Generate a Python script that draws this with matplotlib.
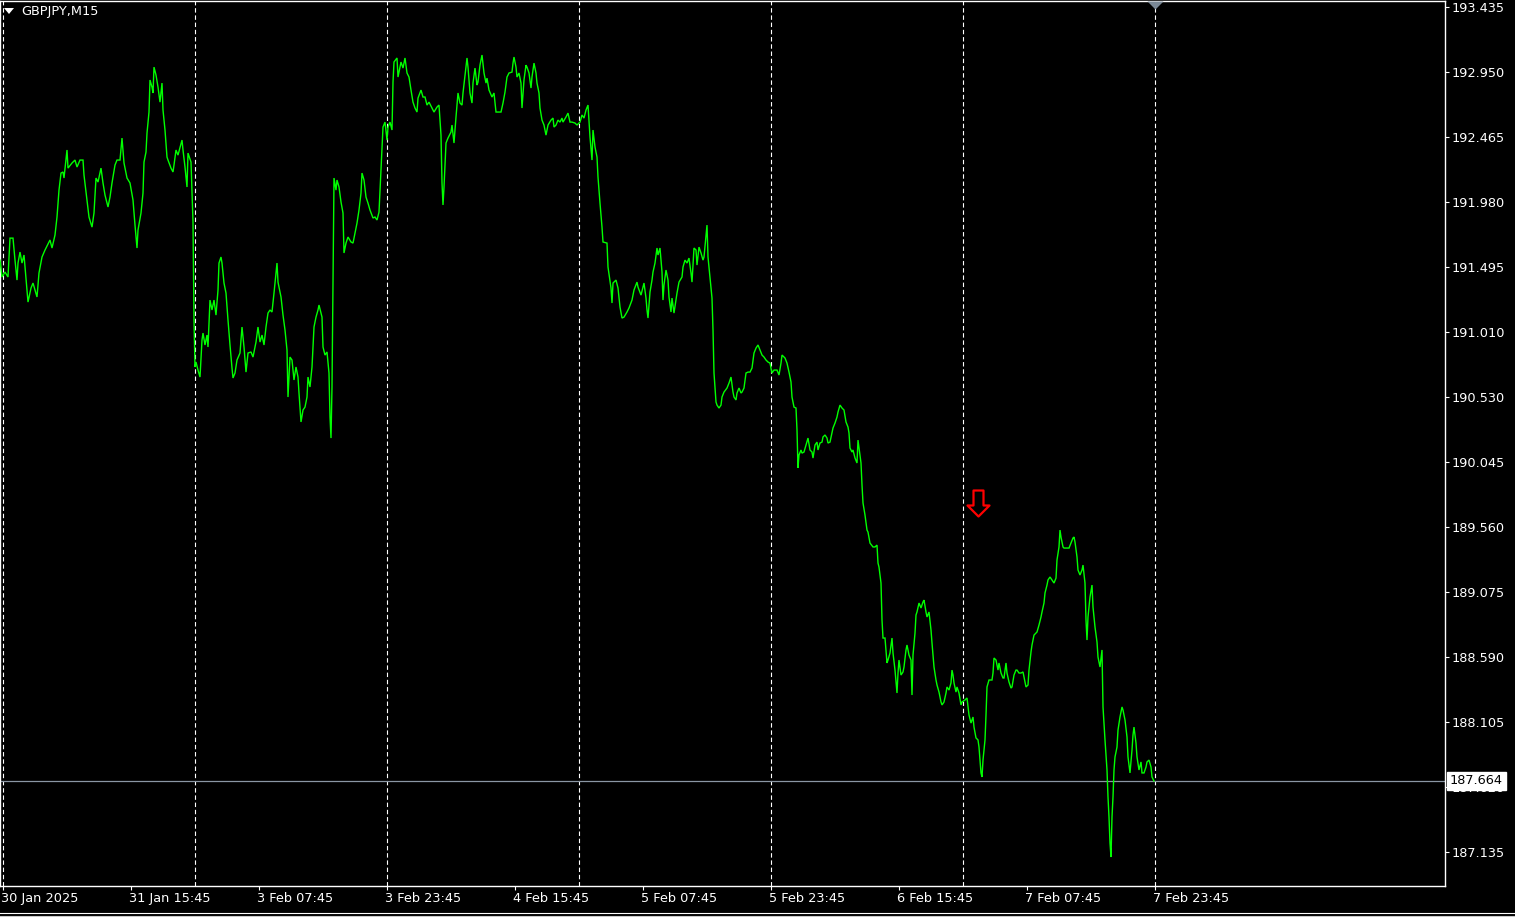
import matplotlib
matplotlib.use("Agg")
import matplotlib.pyplot as plt
import matplotlib.transforms as mtransforms
from matplotlib.transforms import ScaledTranslation
from matplotlib.path import Path

# ---------------- data ----------------
symbol = "GBPJPY,M15"

bars = [
    -1.5, -0.5, 1, 2.5, 3.5, 5, 6, 7, 7.5, 8.5, 9.5, 10.5, 11.5, 12.5, 14, 15, 17, 18, 19.5, 21,
    23.5, 24.5, 26, 27, 28, 29, 30, 30.5, 32, 32.5, 34.5, 36, 37, 38.5, 40, 40.5, 42, 43, 44.5, 45.5,
    46.5, 47.5, 49, 50, 51, 52.5, 53.5, 54.5, 56, 57, 58.5, 59.5, 60.5, 62, 63.5, 65, 66, 67, 67.5, 69,
    70, 70.5, 71.5, 72, 73, 73.5, 74.5, 75, 75.5, 76.5, 77.5, 78.5, 79.5, 80, 81, 82, 82.5, 84, 85, 85.5,
    86.5, 87.5, 89.5, 90, 91, 92, 92.5, 94, 95, 95.5, 96, 96.5, 97.5, 98.5, 99.5, 100, 101, 102, 102.5, 103.5,
    104.5, 105.5, 106.5, 107.5, 108, 109, 109.5, 110.5, 111.5, 112.5, 113.5, 114.5, 115, 116, 117, 118.5, 119.5, 120.5, 121.5, 122.5,
    124, 125, 126.5, 127.5, 128.5, 129.5, 130.5, 131.5, 132.5, 133.5, 134.5, 135.5, 136.5, 137, 137.5, 139, 140, 141, 142, 142.5,
    143.5, 144.5, 145.5, 146.5, 147.5, 148, 149, 150, 151, 152, 152.5, 153.5, 154.5, 155.5, 156.5, 157.5, 158, 159.5, 160, 161,
    162, 163, 163.5, 164, 164.5, 165, 165.5, 166.5, 167, 168, 169, 170, 170.5, 171.5, 172.5, 174, 175, 176, 177, 178,
    179, 179.5, 180.5, 181.5, 182.5, 183.5, 185, 186, 187, 188, 189, 189.5, 190, 191, 192, 192.5, 193.5, 194.5, 195, 195.5,
    197, 197.5, 199, 200, 201, 202, 203, 204, 205, 206, 207, 207.5, 209, 210, 211, 212, 213, 214.5, 215.5, 217,
    218, 219, 219.5, 220, 220.5, 221.5, 222.5, 224, 224.5, 225.5, 226.5, 227.5, 228.5, 229.5, 230, 231, 232, 232.5, 233.5, 234.5,
    235, 236, 237, 237.5, 238.5, 239.5, 240.5, 241.5, 242, 243, 244.5, 245.5, 246.5, 247.5, 249, 250, 251, 252, 253, 254.5,
    255, 255.5, 256.5, 257, 258, 259, 259.5, 260.5, 261.5, 262, 263, 264, 264.5, 265.5, 266.5, 267, 268, 268.5, 269.5, 270.5,
    271.5, 272.5, 274, 275, 275.5, 276.5, 277.5, 278.5, 279.5, 280, 281.5, 282.5, 283.5, 284.5, 286, 287, 288.5, 289.5, 290.5, 291.5,
    292.5, 293.5, 294.5, 295, 296, 297, 297.5, 298.5, 299.5, 300, 302, 302.5, 304, 304.5, 305, 306.5, 307.5, 308.5, 309.5, 310.5,
    312, 313, 314.5, 315.5, 317, 317.5, 319, 320, 320.5, 321.5, 322, 322.5, 323.5, 324.5, 325, 326, 327, 327.5, 328.5, 329.5,
    330, 330.5, 331.5, 332.5, 333, 334, 334.5, 335.5, 336.5, 337, 338, 339.5, 340, 341, 342, 343, 344, 344.5, 345.5, 346.5,
    347, 348, 349, 350, 350.5, 351.5, 352, 352.5, 353.5, 354.5, 355, 355.5, 356.5, 357, 358, 359, 359.5, 360.5, 362, 363,
    364, 365, 365.5, 366.5, 367, 368, 369, 369.5, 370.5, 371.5, 372.5, 373.5, 374.5, 375.5, 376.5, 377.5, 378.5, 379.5, 380.5, 381.5,
    382.5, 383.5, 384.5, 385.5, 387, 388, 389, 389.5, 391, 392, 393, 394, 394.5, 395.5, 396.5, 397, 397.5, 398, 399, 399.5,
    400.5, 401.5, 402.5, 403.5, 404.5, 405, 406, 407, 407.5, 408.5, 409.5, 410, 411, 412, 412.5, 413.5, 414.5, 415, 416, 417,
    417.5, 418.5, 419.5, 420.5, 421.5, 422.5, 423, 423.5, 424.5, 425, 426, 427, 427.5, 428, 429, 429.5, 430, 431, 432, 432.5,
    433.5, 435, 436, 437, 437.5, 438, 439, 439.5, 440, 441, 442, 442.5, 443.5, 444.5, 445, 446, 447, 447.5, 448, 449,
    450, 450.5, 451.5, 452, 453, 454, 454.5, 455, 456, 456.5, 457, 458, 459, 460, 460.5, 461.5, 462, 463, 464, 464.5,
    465.5, 466.5, 467, 468, 469, 469.5, 470.5, 471.5, 472, 473, 474, 474.5, 475, 475.5, 476.5, 477, 478, 479, 479.5, 481,
    482, 483, 484, 485, 485.5, 486.5, 487.5, 488, 489, 489.5, 490, 491, 491.5, 492, 493, 494.5, 495, 495.5, 496.5, 497.5,
    498, 499, 500, 500.5, 501.5, 502, 503, 504, 504.5, 505.5, 506.5, 507, 508, 509, 510, 510.5, 511.5, 512.5, 513, 514,
    514.5, 515.5, 516.5, 517, 518, 519, 519.5, 520.5, 521, 522, 522.5, 523.5, 524.5, 525.5, 526.5, 527, 528, 528.5, 529, 530,
    530.5, 532, 533, 534, 535, 535.5, 536, 537, 537.5, 538.5, 539.5, 540, 541, 541.5, 542, 542.5, 543.5, 544.5, 545, 546,
    547, 547.5, 548.5, 549.5, 550, 551, 552, 552.5, 553, 553.5, 554, 554.5, 555, 555.5, 556, 557, 557.5, 558.5, 559.5, 560,
    561, 562, 562.5, 563.5, 564.5, 565, 565.5, 566.5, 567, 568, 569, 569.5, 570.5, 571.5, 572, 573, 574, 574.5, 575.5,
]

closes = [
    191.548, 191.422, 191.459, 191.422, 191.712, 191.712, 191.548, 191.399, 191.526, 191.608, 191.526, 191.586, 191.414, 191.235, 191.340, 191.377, 191.273, 191.452, 191.571, 191.623,
    191.698, 191.638, 191.735, 191.869, 192.070, 192.197, 192.205, 192.160, 192.369, 192.234, 192.272, 192.294, 192.242, 192.294, 192.294, 192.182, 191.996, 191.869, 191.794, 191.899,
    192.160, 192.130, 192.234, 192.123, 192.033, 191.944, 192.018, 192.123, 192.257, 192.294, 192.294, 192.458, 192.272, 192.160, 192.123, 191.996, 191.809, 191.638, 191.772, 191.899,
    192.048, 192.279, 192.354, 192.495, 192.652, 192.891, 192.838, 192.794, 192.987, 192.928, 192.838, 192.726, 192.868, 192.667, 192.518, 192.316, 192.294, 192.234, 192.205, 192.257,
    192.369, 192.331, 192.443, 192.369, 192.242, 192.093, 192.346, 192.279, 191.832, 191.101, 190.751, 190.788, 190.728, 190.676, 190.952, 191.004, 190.915, 190.989, 190.900, 191.250,
    191.176, 191.250, 191.138, 191.325, 191.526, 191.571, 191.526, 191.377, 191.302, 191.101, 190.915, 190.743, 190.669, 190.706, 190.803, 190.855, 191.049, 190.900, 190.713, 190.855,
    190.863, 190.825, 190.937, 191.049, 190.937, 190.989, 190.915, 191.049, 191.153, 191.176, 191.161, 191.302, 191.452, 191.526, 191.384, 191.273, 191.138, 191.027, 190.877, 190.527,
    190.825, 190.803, 190.654, 190.751, 190.676, 190.557, 190.341, 190.430, 190.452, 190.527, 190.676, 190.602, 190.751, 191.049, 191.123, 191.176, 191.213, 191.123, 190.900, 190.840,
    190.863, 190.706, 190.378, 190.221, 190.602, 191.347, 192.160, 192.070, 192.145, 192.093, 191.981, 191.899, 191.601, 191.675, 191.720, 191.683, 191.675, 191.750, 191.824, 191.921,
    192.048, 192.197, 192.145, 192.018, 191.973, 191.921, 191.862, 191.869, 191.847, 191.906, 192.219, 192.369, 192.540, 192.577, 192.443, 192.540, 192.577, 192.518, 192.876, 193.025,
    193.055, 192.913, 193.025, 192.980, 193.055, 192.943, 192.913, 192.816, 192.726, 192.682, 192.652, 192.756, 192.816, 192.764, 192.764, 192.704, 192.726, 192.682, 192.652, 192.689,
    192.704, 192.480, 192.123, 191.959, 192.093, 192.421, 192.458, 192.503, 192.555, 192.421, 192.615, 192.794, 192.719, 192.704, 192.794, 192.928, 193.055, 192.987, 192.794, 192.719,
    192.868, 192.980, 192.853, 192.876, 193.002, 193.077, 192.943, 192.868, 192.905, 192.816, 192.764, 192.794, 192.652, 192.652, 192.652, 192.719, 192.801, 192.913, 192.943, 192.950,
    193.017, 193.062, 192.987, 192.913, 192.943, 192.868, 192.682, 192.891, 193.002, 192.987, 192.943, 192.831, 192.913, 193.017, 192.943, 192.868, 192.794, 192.682, 192.592, 192.555,
    192.480, 192.555, 192.592, 192.607, 192.540, 192.555, 192.592, 192.577, 192.607, 192.577, 192.615, 192.644, 192.577, 192.577, 192.570, 192.555, 192.577, 192.630, 192.607, 192.667,
    192.704, 192.466, 192.294, 192.518, 192.391, 192.316, 192.167, 191.973, 191.794, 191.683, 191.675, 191.496, 191.340, 191.228, 191.377, 191.399, 191.340, 191.198, 191.116, 191.123,
    191.161, 191.191, 191.250, 191.325, 191.384, 191.347, 191.287, 191.347, 191.377, 191.265, 191.176, 191.116, 191.310, 191.399, 191.459, 191.526, 191.638, 191.586, 191.638, 191.459,
    191.250, 191.362, 191.474, 191.399, 191.273, 191.161, 191.265, 191.153, 191.250, 191.302, 191.384, 191.422, 191.496, 191.548, 191.526, 191.563, 191.452, 191.384, 191.638, 191.623,
    191.511, 191.645, 191.601, 191.548, 191.571, 191.735, 191.809, 191.571, 191.422, 191.265, 191.027, 190.706, 190.490, 190.467, 190.445, 190.467, 190.527, 190.564, 190.594, 190.631,
    190.676, 190.564, 190.527, 190.505, 190.557, 190.594, 190.557, 190.564, 190.594, 190.706, 190.713, 190.713, 190.743, 190.855, 190.892, 190.915, 190.877, 190.840, 190.825, 190.803,
    190.788, 190.780, 190.706, 190.728, 190.728, 190.691, 190.780, 190.840, 190.818, 190.780, 190.713, 190.639, 190.527, 190.452, 190.445, 190.281, 189.998, 190.095, 190.132, 190.109,
    190.117, 190.169, 190.221, 190.132, 190.117, 190.072, 190.169, 190.191, 190.132, 190.184, 190.191, 190.229, 190.244, 190.221, 190.184, 190.191, 190.259, 190.296, 190.333, 190.378,
    190.415, 190.467, 190.445, 190.430, 190.341, 190.303, 190.259, 190.147, 190.117, 190.132, 190.072, 190.035, 190.206, 190.147, 190.035, 189.871, 189.737, 189.647, 189.535, 189.520,
    189.438, 189.409, 189.409, 189.423, 189.289, 189.259, 189.140, 188.864, 188.730, 188.730, 188.544, 188.566, 188.618, 188.730, 188.618, 188.491, 188.320, 188.469, 188.566, 188.454,
    188.477, 188.514, 188.641, 188.678, 188.603, 188.566, 188.305, 188.603, 188.767, 188.902, 188.924, 188.991, 188.954, 188.999, 189.013, 188.924, 188.887, 188.924, 188.790, 188.693,
    188.514, 188.417, 188.380, 188.327, 188.253, 188.231, 188.253, 188.320, 188.365, 188.342, 188.395, 188.491, 188.454, 188.395, 188.327, 188.365, 188.320, 188.231, 188.253, 188.268,
    188.283, 188.156, 188.096, 188.141, 188.066, 187.985, 187.970, 187.917, 187.724, 187.694, 187.820, 187.970, 188.156, 188.365, 188.417, 188.417, 188.469, 188.581, 188.566, 188.491,
    188.544, 188.469, 188.432, 188.432, 188.544, 188.469, 188.402, 188.357, 188.365, 188.454, 188.491, 188.491, 188.469, 188.469, 188.477, 188.439, 188.365, 188.380, 188.491, 188.626,
    188.678, 188.752, 188.767, 188.775, 188.827, 188.887, 188.924, 188.991, 189.066, 189.125, 189.163, 189.185, 189.163, 189.140, 189.177, 189.312, 189.409, 189.535, 189.483, 189.409,
    189.401, 189.401, 189.401, 189.438, 189.476, 189.483, 189.446, 189.334, 189.237, 189.200, 189.237, 189.274, 189.140, 188.864, 188.715, 188.887, 189.036, 189.125, 188.961, 188.812,
    188.700, 188.588, 188.514, 188.641, 188.216, 187.970, 187.746, 187.545, 187.395, 187.202, 187.097, 187.395, 187.545, 187.746, 187.843, 187.917, 188.044, 188.141, 188.216, 188.193,
    188.119, 187.992, 187.843, 187.724, 187.895, 188.007, 188.066, 187.947, 187.843, 187.746, 187.806, 187.724, 187.724, 187.768, 187.806, 187.820, 187.768, 187.694, 187.664,
]

price_ticks = [193.435, 192.950, 192.465, 191.980, 191.495, 191.010, 190.530,
               190.045, 189.560, 189.075, 188.590, 188.105, 187.620, 187.135]
price_tick_labels = ["193.435", "192.950", "192.465", "191.980", "191.495", "191.010", "190.530",
                     "190.045", "189.560", "189.075", "188.590", "188.105", "187.620", "187.135"]
time_tick_bars = [0, 64, 128, 192, 256, 320, 384, 448, 512, 576]
time_tick_labels = ["30 Jan 2025", "31 Jan 15:45", "3 Feb 07:45", "3 Feb 23:45", "4 Feb 15:45",
                    "5 Feb 07:45", "5 Feb 23:45", "6 Feb 15:45", "7 Feb 07:45", "7 Feb 23:45"]
day_separator_bars = [0, 96, 192, 288, 384, 480, 576]
last_price = 187.664
last_price_label = "187.664"
signal_bar = 487.5
signal_price = 189.74
shift_marker_bar = 576

# ---------------- figure ----------------
W, H = 1515, 917
FS = 9.3
fig = plt.figure(figsize=(W / 100, H / 100), dpi=100, facecolor="black")
ax_l, ax_r, ax_t, ax_b = 0, 1445, 1, 886
ax = fig.add_axes([ax_l / W, (H - ax_b) / H, (ax_r - ax_l) / W, (ax_b - ax_t) / H])
ax.set_facecolor("black")

ax.set_xlim(-1.5, 721)
ax.set_ylim(186.881, 193.480)

for s in ax.spines.values():
    s.set_color("white")
    s.set_linewidth(1.0)

# day separators
for b in day_separator_bars:
    ax.axvline(b, color="white", lw=0.8, ls=(0, (4, 2.5)), zorder=1)

# current price line
ax.axhline(last_price, color="#8a96a3", lw=0.9, zorder=2)

# price line
ax.plot(bars, closes, color="#00ff00", lw=1.0, zorder=3, solid_joinstyle="miter")

# sell arrow (hollow)
arrow = Path([(-5, 13), (5, 13), (5, -2), (11, -2), (0, -13), (-11, -2), (-5, -2), (-5, 13)],
             [Path.MOVETO] + [Path.LINETO] * 6 + [Path.CLOSEPOLY])
ax.plot([signal_bar], [signal_price], marker=arrow, markersize=26 * 0.72,
        markerfacecolor="none", markeredgecolor="#ff0000", markeredgewidth=1.6,
        ls="none", zorder=4)

# chart shift marker at top
tri = Path([(-8, 0), (8, 0), (0, -8), (-8, 0), (0, 8)],
           [Path.MOVETO, Path.LINETO, Path.LINETO, Path.CLOSEPOLY, Path.MOVETO])
trans_top = mtransforms.blended_transform_factory(ax.transData, ax.transAxes)
ax.plot([shift_marker_bar], [1.0], marker=tri, markersize=16 * 0.72,
        color="#7a8896", markeredgewidth=0, transform=trans_top, clip_on=False, zorder=5)

# y axis (right)
ax.yaxis.tick_right()
ax.set_yticks(price_ticks)
ax.set_yticklabels(price_tick_labels)
ax.tick_params(axis="y", colors="white", labelcolor="white", length=3, width=0.8,
               pad=2, labelsize=FS, direction="out")
# x axis
ax.set_xticks(time_tick_bars)
ax.set_xticklabels(time_tick_labels)
ax.tick_params(axis="x", colors="white", labelcolor="white", length=3, width=0.8,
               pad=1.5, labelsize=FS, direction="out")
for lbl in ax.get_xticklabels():
    lbl.set_horizontalalignment("left")
    lbl.set_transform(lbl.get_transform() + ScaledTranslation(-2 / 100, 0, fig.dpi_scale_trans))

# last price label box (drawn over the 187.620 label, as in the terminal)
trans_right = mtransforms.blended_transform_factory(ax.transAxes, ax.transData)
ax.text(1.0 + 5 / (ax_r - ax_l), last_price, last_price_label, transform=trans_right,
        ha="left", va="center", fontsize=FS, color="black", clip_on=False, zorder=10,
        bbox=dict(boxstyle="square,pad=0.2", facecolor="white", edgecolor="white"))

# title
fig.text(21 / W, 1 - 12 / H, symbol, color="white", fontsize=FS, ha="left", va="center")
fig.patches.append(plt.Polygon([[4 / W, 1 - 8 / H], [14 / W, 1 - 8 / H], [9 / W, 1 - 14 / H]],
                               closed=True, transform=fig.transFigure, facecolor="white",
                               edgecolor="none"))

# bottom window border lines
fig.add_artist(plt.Line2D([0, 1], [1 - 913 / H, 1 - 913 / H], transform=fig.transFigure,
                          color="white", lw=0.8))
fig.add_artist(plt.Line2D([0, 1], [1 - 916 / H, 1 - 916 / H], transform=fig.transFigure,
                          color="#c8c8c8", lw=0.8))

fig.savefig("out.png", dpi=100, facecolor="black")
